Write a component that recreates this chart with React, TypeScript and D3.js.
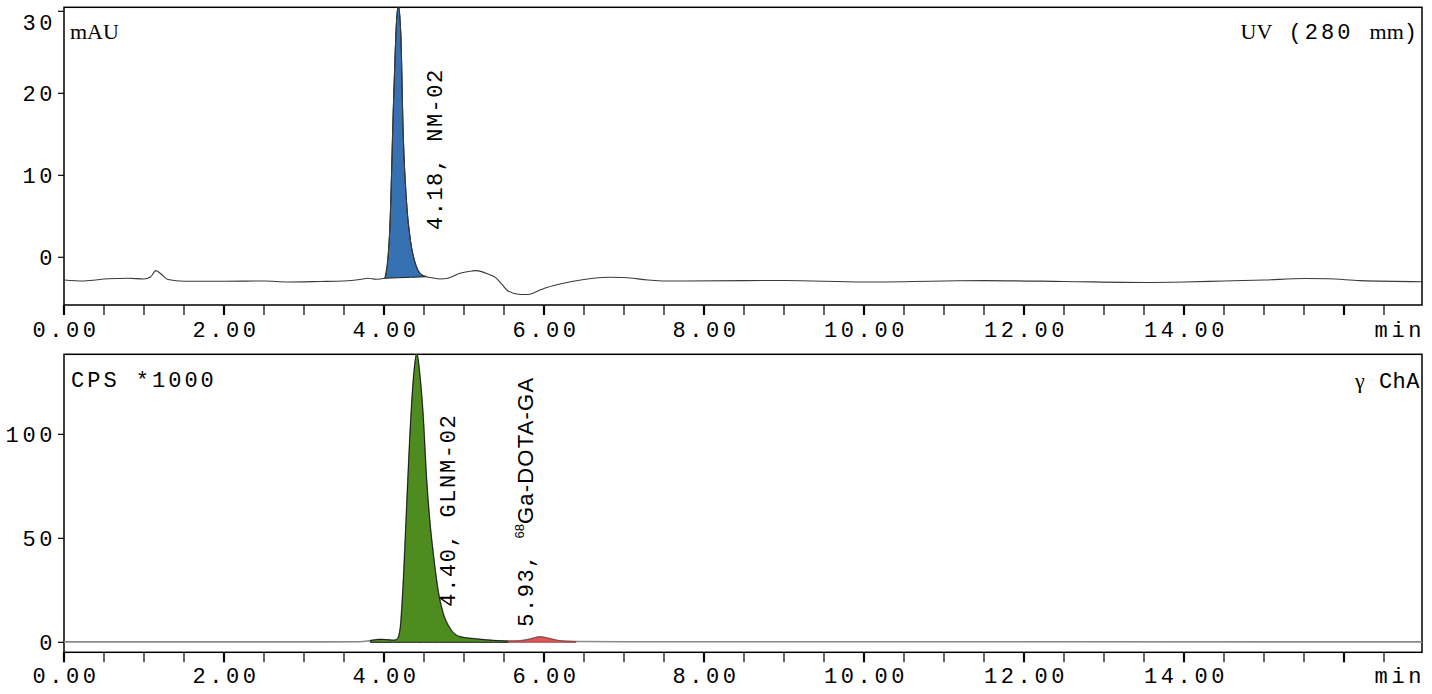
import React from 'react';
import * as d3 from 'd3';

// UV trace (time in min, mAU)
const uvTime = [0.00,0.25,0.55,0.80,1.00,1.08,1.15,1.22,1.30,1.50,2.00,2.50,2.80,3.20,3.50,3.70,3.80,3.90,4.01,4.07,4.12,4.16,4.18,4.21,4.24,4.28,4.33,4.39,4.45,4.53,4.60,4.70,4.80,4.95,5.10,5.15,5.30,5.40,5.48,5.55,5.70,5.80,5.95,6.00,6.20,6.50,6.80,7.00,7.30,7.50,8.50,9.00,10.0,11.0,11.5,12.5,13.5,14.0,14.5,15.0,15.5,15.8,16.2,16.975];
const uvValue = [-2.77,-2.89,-2.62,-2.55,-2.65,-2.40,-1.63,-2.10,-2.71,-2.93,-2.93,-2.89,-3.01,-2.95,-2.89,-2.71,-2.56,-2.68,-2.56,2.96,19.2,29.3,30.6,27.3,15.1,7.0,2.1,-0.7,-1.95,-2.37,-2.50,-2.65,-2.55,-1.95,-1.67,-1.63,-2.04,-2.52,-3.38,-4.11,-4.54,-4.54,-3.99,-3.80,-3.26,-2.71,-2.44,-2.46,-2.77,-2.89,-2.85,-2.83,-3.01,-2.89,-2.85,-2.95,-3.07,-3.01,-2.89,-2.77,-2.59,-2.62,-2.85,-2.98];

// Gamma trace (time in min, CPS*1000)
const gTime = [0.00,3.00,3.70,3.83,3.95,4.05,4.12,4.16,4.20,4.24,4.28,4.325,4.37,4.41,4.45,4.49,4.53,4.575,4.62,4.68,4.74,4.825,4.95,5.16,5.37,5.55,5.70,5.83,5.95,6.07,6.20,6.40,7.00,16.975];
const gValue = [0.2,0.2,0.3,0.8,1.4,1.2,1.0,1.3,5.9,28,62,100,127.7,138.8,127.7,108.5,79.6,57.2,41.2,24,13.9,6.7,2.7,1.6,0.9,0.6,0.7,1.6,2.6,1.8,0.7,0.4,0.3,0.2];

const xMajorLabels = [0, 2, 4, 6, 8, 10, 12, 14];
const uvYTicks = [0, 10, 20, 30];
const gYTicks = [0, 50, 100];

const uvPeak = { start: 4.01, end: 4.53, label: '4.18, NM-02', rt: 4.18 };
const gPeakMain = { start: 3.83, end: 5.55, label: '4.40, GLNM-02', rt: 4.40 };
const gPeakMinor = { start: 5.55, end: 6.40, rt: 5.93 };

const MONO = '"Liberation Mono", "DejaVu Sans Mono", monospace';
const SERIF = '"Liberation Serif", "DejaVu Serif", serif';
const SANS = '"Liberation Sans", Arial, sans-serif';

type Pt = { t: number; v: number };

function pts(ts: number[], vs: number[]): Pt[] {
  return ts.map((t, i) => ({ t, v: vs[i] }));
}

export default function App() {
  const W = 1432, H = 694;
  const x = d3.scaleLinear().domain([0, 16.975]).range([64, 1422]);
  const yTop = d3.scaleLinear().domain([-5.82, 30.49]).range([305, 7.3]);
  const yBot = d3.scaleLinear().domain([-4.8, 138.5]).range([652.3, 354.3]);

  const uv = pts(uvTime, uvValue);
  const g = pts(gTime, gValue);

  const lineTop = d3.line<Pt>().x(d => x(d.t)).y(d => yTop(d.v)).curve(d3.curveMonotoneX);
  const lineBot = d3.line<Pt>().x(d => x(d.t)).y(d => yBot(d.v)).curve(d3.curveMonotoneX);

  // UV peak area with straight baseline between start and end points
  const uvSub = uv.filter(d => d.t >= uvPeak.start && d.t <= uvPeak.end);
  const bs = uvSub[0], be = uvSub[uvSub.length - 1];
  const baseAt = (t: number) => bs.v + (be.v - bs.v) * (t - bs.t) / (be.t - bs.t);
  const areaTop = d3.area<Pt>().x(d => x(d.t)).y1(d => yTop(d.v)).y0(d => yTop(baseAt(d.t))).curve(d3.curveMonotoneX);

  const areaBot = d3.area<Pt>().x(d => x(d.t)).y1(d => yBot(d.v)).y0(() => yBot(0)).curve(d3.curveMonotoneX);
  const gMain = g.filter(d => d.t >= gPeakMain.start && d.t <= gPeakMain.end);
  const gMinor = g.filter(d => d.t >= gPeakMinor.start && d.t <= gPeakMinor.end);

  const xTicks = d3.range(0, 16.75, 0.5);
  const fmt = d3.format('.2f');

  const panel = (top: number, bottom: number, y: d3.ScaleLinear<number, number>, yt: number[], clipId: string, labelBaseline: number) => (
    <g>
      <rect x={64} y={top} width={1422 - 64} height={bottom - top} fill="none" stroke="#000" strokeWidth={1.5} />
      {xTicks.map(t => (
        <line key={t} x1={x(t)} x2={x(t)} y1={bottom} y2={bottom + 10} stroke="#000" strokeWidth={t % 2 === 0 ? 2.2 : 1.2} />
      ))}
      {xMajorLabels.map(t => (
        <text key={t} x={x(t) + 2} y={labelBaseline} textAnchor="middle" fontFamily={MONO} fontSize={22} letterSpacing={3.6} fill="#000">{fmt(t)}</text>
      ))}
      <text x={1425} y={labelBaseline} textAnchor="end" fontFamily={MONO} fontSize={22} letterSpacing={3.6} fill="#000">min</text>
      {yt.map(v => (
        <g key={v}>
          <line x1={58} x2={64} y1={y(v)} y2={y(v)} stroke="#000" strokeWidth={1.2} />
          <text x={56} y={Math.max(y(v), top + 15)} dy="0.36em" textAnchor="end" fontFamily={MONO} fontSize={22} letterSpacing={3.6} fill="#000">{v}</text>
        </g>
      ))}
      <clipPath id={clipId}>
        <rect x={64} y={top} width={1422 - 64} height={bottom - top} />
      </clipPath>
    </g>
  );

  return (
    <svg width={W} height={H} style={{ position: 'absolute', left: 0, top: 0, background: '#fff' }}>
      <rect x={0} y={0} width={W} height={H} fill="#fff" />
      {panel(7.3, 305, yTop, uvYTicks, 'clipTop', 337)}
      {panel(354.3, 652.3, yBot, gYTicks, 'clipBot', 683)}

      {/* Top panel traces */}
      <g clipPath="url(#clipTop)">
        <path d={areaTop(uvSub) || ''} fill="#3671b1" stroke="#1a1a1a" strokeWidth={1} />
        <path d={lineTop(uv) || ''} fill="none" stroke="#3a3a3a" strokeWidth={1.1} />
      </g>
      <text x={70} y={39} fontFamily={SERIF} fontSize={22} fill="#000">mAU</text>
      <text x={1420} y={39} textAnchor="end" fontFamily={MONO} fontSize={22} letterSpacing={3} fill="#000">
        <tspan fontFamily={SERIF} letterSpacing={0}>UV</tspan> (280 <tspan fontFamily={SERIF} letterSpacing={0}>mm</tspan>)
      </text>
      <text transform={`translate(${x(uvPeak.rt) + 44},230) rotate(-90)`} fontFamily={MONO} fontSize={22} letterSpacing={1.5} fill="#000">{uvPeak.label}</text>

      {/* Bottom panel traces */}
      <g clipPath="url(#clipBot)">
        <path d={lineBot(g) || ''} fill="none" stroke="#8a8a8a" strokeWidth={1.6} />
        <path d={areaBot(gMain) || ''} fill="#4f8c1f" stroke="#1a1a1a" strokeWidth={1} />
        <path d={areaBot(gMinor) || ''} fill="#e05555" stroke="#8a3a3a" strokeWidth={0.8} />
      </g>
      <text x={71} y={386.5} fontFamily={MONO} fontSize={22} letterSpacing={3} fill="#000">CPS *1000</text>
      <text x={1420} y={388} textAnchor="end" fontFamily={MONO} fontSize={22} letterSpacing={0.5} fill="#000">
        <tspan fontFamily={SERIF}>γ</tspan> ChA
      </text>
      <text transform={`translate(${x(gPeakMain.rt) + 39},606.7) rotate(-90)`} fontFamily={MONO} fontSize={22} letterSpacing={1.65} fill="#000">{gPeakMain.label}</text>
      <text transform={`translate(${x(gPeakMinor.rt) - 5},626.7) rotate(-90)`} fontFamily={MONO} fontSize={22} letterSpacing={1.5} fill="#000">
        5.93,{' '}
        <tspan fontFamily={SANS} fontSize={13} dy={-9} letterSpacing={0}>68</tspan>
        <tspan fontFamily={SANS} fontSize={22} dy={9} letterSpacing={1.2}>Ga-DOTA-GA</tspan>
      </text>
    </svg>
  );
}
